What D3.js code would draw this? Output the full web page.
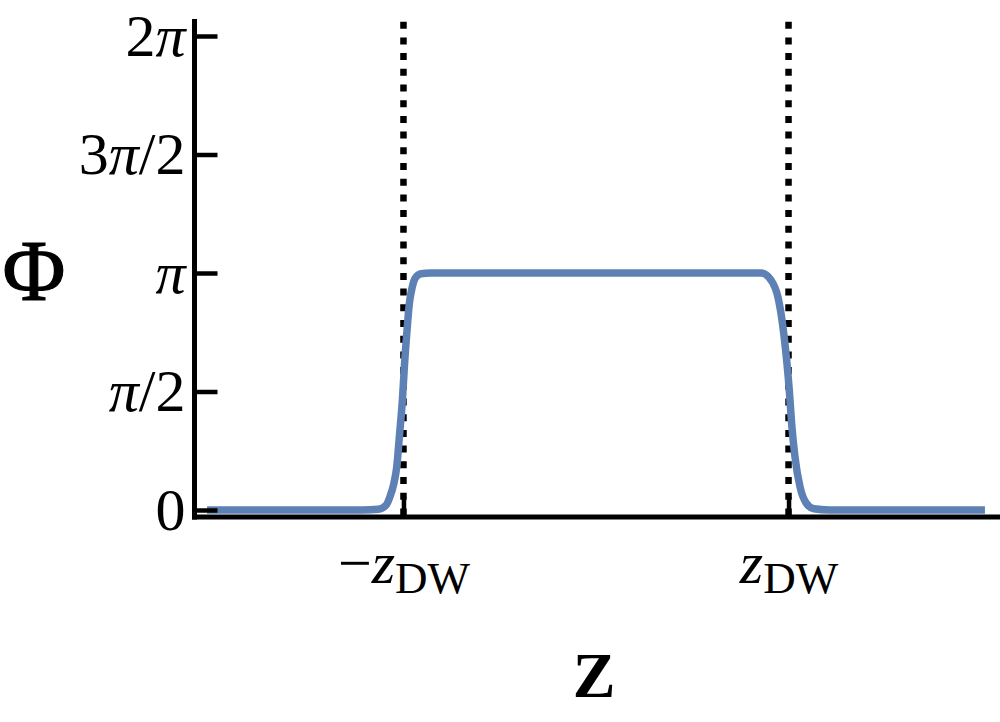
<!DOCTYPE html>
<html>
<head>
<meta charset="utf-8">
<script src="https://cdn.jsdelivr.net/npm/d3@7"></script>
<style>
    body { margin: 0; background: #fff; }
    svg { display: block; }
    text { font-family: "Liberation Serif", "Times New Roman", serif; fill: #000; }
</style>
</head>
<body>
<svg id="chart" width="1000" height="722"></svg>
<script>
// curve: z in units of z_DW-ish, phi in units of pi
var zVals   = [-2.0, -1.5, -1.2, -1.12, -1.08, -1.06, -1.04, -1.025, -1.01, -0.995, -0.985, -0.973, -0.96, -0.945, -0.93, -0.9, -0.85, -0.5, 0, 0.5, 0.85, 0.9, 0.935, 0.96, 0.98, 0.994, 1.006, 1.023, 1.049, 1.08, 1.12, 1.2, 1.5, 2.0];
var phiVals = [0, 0, 0, 0.003, 0.02, 0.055, 0.11, 0.18, 0.32, 0.47, 0.61, 0.745, 0.87, 0.94, 0.978, 0.997, 1, 1, 1, 1, 1, 0.97, 0.9, 0.78, 0.635, 0.505, 0.365, 0.225, 0.098, 0.03, 0.005, 0, 0, 0];

var yTickVals = [0, 0.5, 1, 1.5, 2];
var yTickLabels = ["0", "π/2", "π", "3π/2", "2π"];
var zDW = 0.99;
var xTickVals = [-zDW, zDW];
var xTickLabels = ["−z", "z"];
var xTickSubs = ["DW", "DW"];

var svg = d3.select("#chart");

var x = d3.scaleLinear().domain([-2.062, 2.062]).range([195, 997]);
var y = d3.scaleLinear().domain([0, 2]).range([510, 36]);

var data = zVals.map(function(z, i) { return {z: z, phi: phiVals[i]}; });

// dotted lines at +-zDW
svg.append("g")
    .selectAll("line")
    .data(xTickVals)
    .enter().append("line")
    .attr("x1", function(d) { return x(d); })
    .attr("x2", function(d) { return x(d); })
    .attr("y1", 21.7)
    .attr("y2", 517)
    .attr("stroke", "#000")
    .attr("stroke-width", 6.5)
    .attr("stroke-dasharray", "7 8.7");

// the curve
var line = d3.line()
    .x(function(d) { return x(d.z); })
    .y(function(d) { return y(d.phi); })
    .curve(d3.curveMonotoneX);

svg.append("path")
    .datum(data)
    .attr("fill", "none")
    .attr("stroke", "#5E81B5")
    .attr("stroke-width", 7.5)
    .attr("d", line);

// axes lines
svg.append("line")
    .attr("x1", 194.5).attr("x2", 194.5)
    .attr("y1", 19).attr("y2", 519.5)
    .attr("stroke", "#000").attr("stroke-width", 5);
svg.append("line")
    .attr("x1", 192).attr("x2", 1000)
    .attr("y1", 517).attr("y2", 517)
    .attr("stroke", "#000").attr("stroke-width", 5);

var yAxis = d3.axisLeft(y)
    .tickValues(yTickVals)
    .tickSizeInner(-23)
    .tickSizeOuter(0)
    .tickPadding(9)
    .tickFormat(function(d, i) { return yTickLabels[i]; });

var gy = svg.append("g")
    .attr("transform", "translate(194.5,0)")
    .call(yAxis);
gy.select(".domain").remove();
gy.selectAll(".tick line").attr("stroke", "#000").attr("stroke-width", 4.5);
gy.selectAll(".tick text")
    .attr("font-size", 60)
    .attr("font-family", null)
    .each(function(d, i) {
        var t = d3.select(this);
        var parts = yTickLabels[i].split("π");
        t.text(null);
        parts.forEach(function(p, j) {
            if (j > 0) t.append("tspan").attr("font-style", "italic").text("π");
            if (p) t.append("tspan").text(p);
        });
    });

var xAxis = d3.axisBottom(x)
    .tickValues(xTickVals)
    .tickSizeInner(-20)
    .tickSizeOuter(0)
    .tickPadding(23)
    .tickFormat(function(d, i) { return xTickLabels[i]; });

var gx = svg.append("g")
    .attr("transform", "translate(0,517)")
    .call(xAxis);
gx.select(".domain").remove();
gx.selectAll(".tick line").attr("stroke", "#000").attr("stroke-width", 4.5);
gx.selectAll(".tick text")
    .attr("font-size", 60)
    .attr("font-family", null)
    .each(function(d, i) {
        var t = d3.select(this);
        var lab = xTickLabels[i];
        t.text(null);
        if (lab.charAt(0) == "−") t.append("tspan").text("−");
        t.append("tspan").attr("font-style", "italic").text("z");
        t.append("tspan").attr("font-size", 45).attr("dy", 10).text(xTickSubs[i]);
    });

// axis titles
svg.append("text")
    .attr("x", 34)
    .attr("y", 300)
    .attr("text-anchor", "middle")
    .attr("font-size", 86)
    .attr("stroke", "#000")
    .attr("stroke-width", 1.2)
    .text("Φ");

svg.append("text")
    .attr("x", 594)
    .attr("y", 697)
    .attr("text-anchor", "middle")
    .attr("font-size", 64)
    .attr("font-weight", "bold")
    .text("Z");
</script>
</body>
</html>
